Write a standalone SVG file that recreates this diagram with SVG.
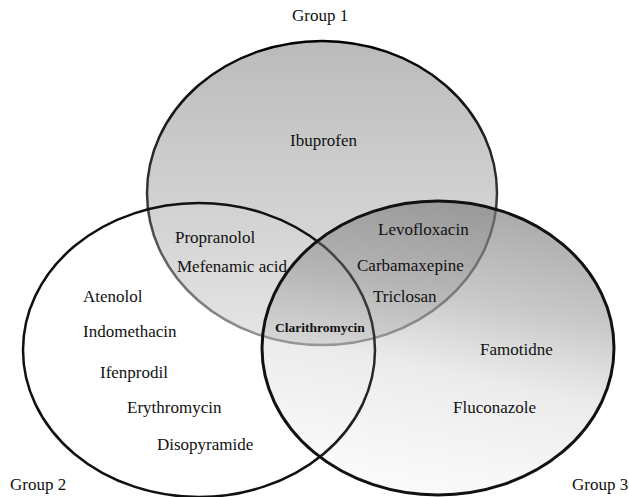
<svg xmlns="http://www.w3.org/2000/svg" width="629" height="497" viewBox="0 0 629 497">
<style>
  .lbl { font-family: "Liberation Serif", "DejaVu Serif", "Times New Roman", serif; font-size: 17px; fill: #111; }
  .small { font-size: 13.5px; font-weight: bold; }
</style>
<defs>
  <linearGradient id="g1fill" gradientUnits="userSpaceOnUse" x1="0" y1="40" x2="0" y2="346">
    <stop offset="0" stop-color="#bababa"/>
    <stop offset="0.3" stop-color="#c8c8c8"/>
    <stop offset="0.65" stop-color="#d6d6d6"/>
    <stop offset="1" stop-color="#e6e6e6"/>
  </linearGradient>
  <linearGradient id="g1stroke" gradientUnits="userSpaceOnUse" x1="0" y1="40" x2="0" y2="346">
    <stop offset="0" stop-color="#000"/>
    <stop offset="0.5" stop-color="#333"/>
    <stop offset="1" stop-color="#999"/>
  </linearGradient>
  <linearGradient id="g3fill" gradientUnits="userSpaceOnUse" x1="500" y1="200" x2="440" y2="495">
    <stop offset="0" stop-color="#787878" stop-opacity="0.65"/>
    <stop offset="0.35" stop-color="#808080" stop-opacity="0.42"/>
    <stop offset="0.6" stop-color="#909090" stop-opacity="0.18"/>
    <stop offset="1" stop-color="#a0a0a0" stop-opacity="0.05"/>
  </linearGradient>
</defs>
<rect width="629" height="497" fill="#fff"/>

<g id="group1">
  <ellipse cx="322" cy="193" rx="175" ry="152" fill="url(#g1fill)" stroke="url(#g1stroke)" stroke-width="2.5"/>
</g>
<g id="group2">
  <ellipse cx="199" cy="350" rx="176" ry="147" fill="none" stroke="#111" stroke-width="2.5"/>
</g>
<g id="group3">
  <ellipse cx="438" cy="348" rx="176" ry="147" fill="url(#g3fill)" stroke="#111" stroke-width="3"/>
</g>

<g id="connectors"></g>

<g id="labels" class="lbl">
  <text class="lbl" x="292" y="21">Group 1</text>
  <text class="lbl" x="10" y="490">Group 2</text>
  <text class="lbl" x="572" y="490">Group 3</text>
  <text class="lbl" x="290" y="146">Ibuprofen</text>
  <text class="lbl" x="175" y="243">Propranolol</text>
  <text class="lbl" x="177" y="272">Mefenamic acid</text>
  <text class="lbl" x="83" y="302">Atenolol</text>
  <text class="lbl" x="83" y="337">Indomethacin</text>
  <text class="lbl" x="100" y="378">Ifenprodil</text>
  <text class="lbl" x="127" y="413">Erythromycin</text>
  <text class="lbl" x="157" y="450">Disopyramide</text>
  <text class="lbl" x="378" y="235">Levofloxacin</text>
  <text class="lbl" x="357" y="271">Carbamaxepine</text>
  <text class="lbl" x="373" y="302">Triclosan</text>
  <text class="lbl small" x="275" y="332">Clarithromycin</text>
  <text class="lbl" x="480" y="355">Famotidne</text>
  <text class="lbl" x="453" y="413">Fluconazole</text>
</g>
</svg>
